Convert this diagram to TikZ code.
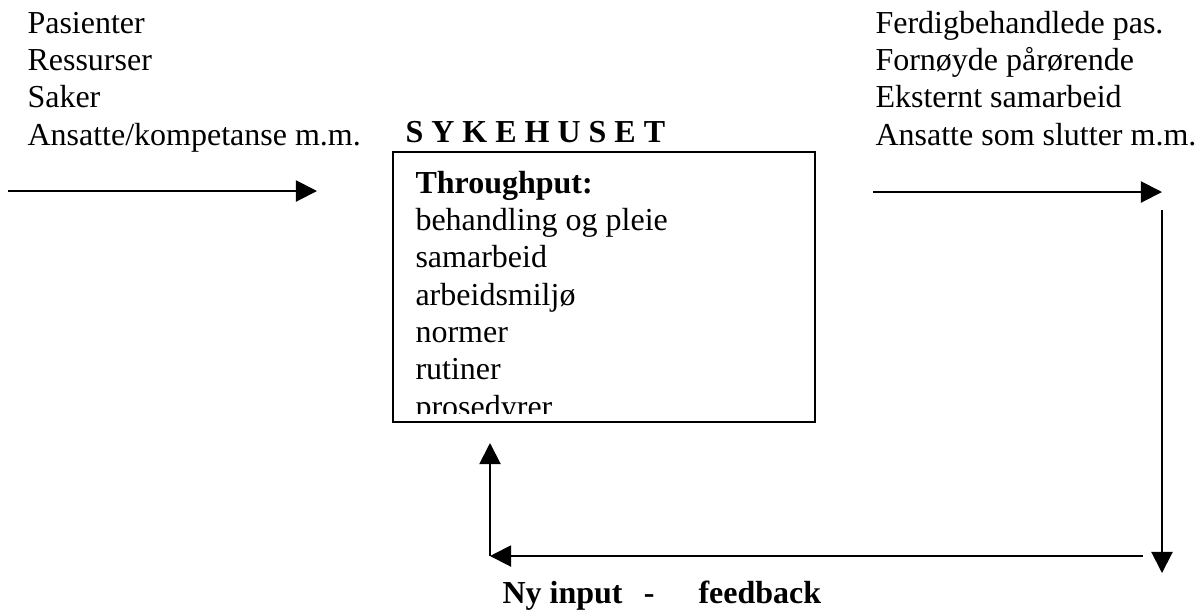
\documentclass[tikz,border=0pt]{standalone}
\usepackage{fontspec}
\setmainfont{Liberation Serif}
\usetikzlibrary{arrows.meta,positioning}

\begin{document}
\begin{tikzpicture}[x=0.375pt, y=-0.375pt,
     item/.style = {font=\fontsize{12}{13.6}\selectfont, inner sep=0pt, text height=9.6pt, text depth=4pt},
     head/.style = {item, font=\fontsize{12}{13.6}\selectfont\bfseries},
     frame/.style = {draw, line width=0.8pt},
     arrow/.style = {draw, line width=0.75pt, -{Triangle[length=7.9pt, width=7.9pt]}}
    ]
    \useasboundingbox (0,0) rectangle (1200,613);

    % input side
    \node [item, anchor=base west] (in1) at (27,33) {Pasienter};
    \node [item, below=0pt of in1.south west, anchor=north west] (in2) {Ressurser};
    \node [item, below=0pt of in2.south west, anchor=north west] (in3) {Saker};
    \node [item, below=0pt of in3.south west, anchor=north west] (in4) {Ansatte/kompetanse m.m.};

    % output side
    \node [item, anchor=base west] (out1) at (875,33) {Ferdigbehandlede pas.};
    \node [item, below=0pt of out1.south west, anchor=north west] (out2) {Fornøyde pårørende};
    \node [item, below=0pt of out2.south west, anchor=north west] (out3) {Eksternt samarbeid};
    \node [item, below=0pt of out3.south west, anchor=north west] (out4) {Ansatte som slutter m.m.};

    % hospital box
    \node [head, anchor=base west] (sykehus) at (405,142) {S Y K E H U S E T};
    \coordinate (boxnw) at (393,152);
    \coordinate (boxse) at (815,422);
    \draw [frame] (boxnw) rectangle (boxse);
    \begin{scope}
    \clip (boxnw) rectangle (815,413);
    \node [head, anchor=base west] (thru) at (415,193) {Throughput:};
    \node [item, below=0pt of thru.south west, anchor=north west] (t1) {behandling og pleie};
    \node [item, below=0pt of t1.south west, anchor=north west] (t2) {samarbeid};
    \node [item, below=0pt of t2.south west, anchor=north west] (t3) {arbeidsmiljø};
    \node [item, below=0pt of t3.south west, anchor=north west] (t4) {normer};
    \node [item, below=0pt of t4.south west, anchor=north west] (t5) {rutiner};
    \node [item, below=0pt of t5.south west, anchor=north west] (t6) {prosedyrer};
    \end{scope}

    % arrows
    \coordinate (inA) at (8,191);
    \coordinate (inB) at (317,191);
    \coordinate (outA) at (873,192);
    \coordinate (outB) at (1162,192);
    \coordinate (fbA) at (1162,210);
    \coordinate (fbB) at (1162,573);
    \coordinate (fbC) at (1143,556);
    \coordinate (fbD) at (490,556);
    \coordinate (fbE) at (490,443);
    \draw [arrow] (inA) -- (inB);
    \draw [arrow] (outA) -- (outB);
    \draw [arrow] (fbA) -- (fbB);
    \draw [arrow] (fbC) -- (fbD);
    \draw [arrow] (fbD) -- (fbE);

    \node [head, anchor=base west] (fbtext) at (502,603) {Ny input\hspace{8pt}-\hspace{16.5pt}feedback};
\end{tikzpicture}
\end{document}
